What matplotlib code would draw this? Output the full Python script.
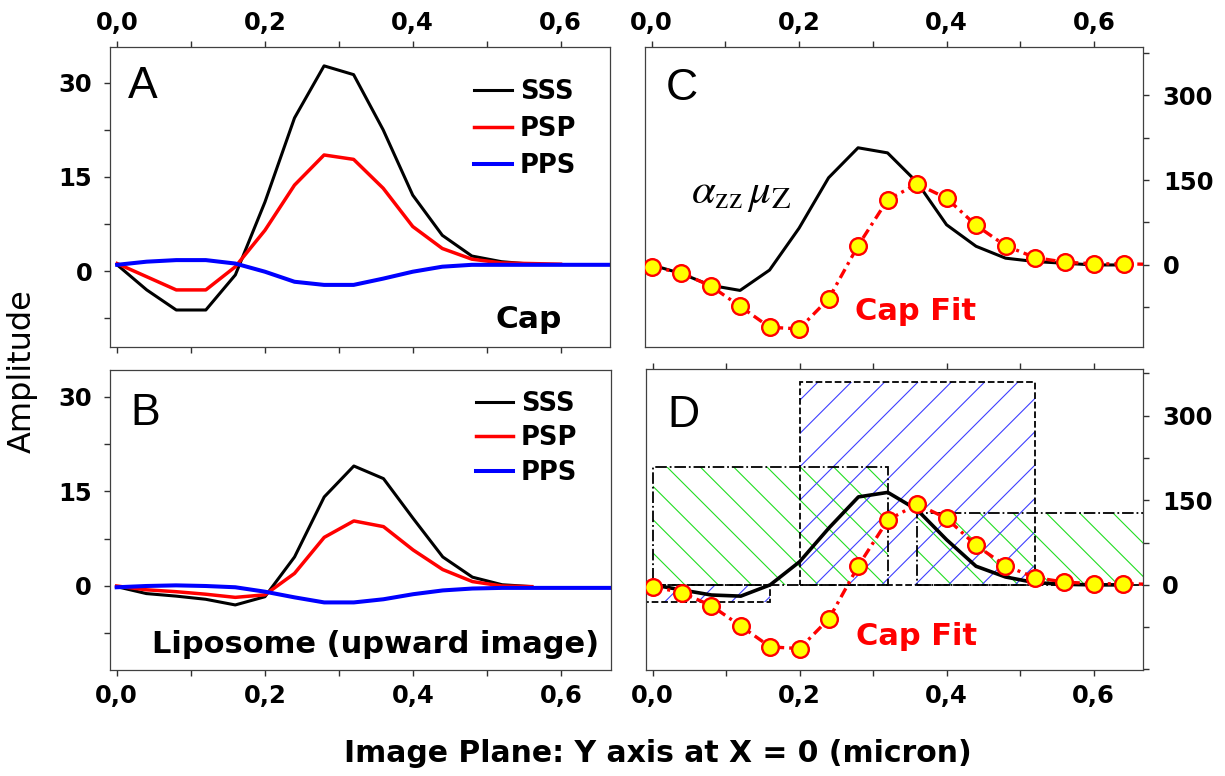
import matplotlib
matplotlib.use("Agg")
import matplotlib.pyplot as plt
from matplotlib.ticker import FixedLocator, MultipleLocator

# positions along the image plane (micron), sampled every 0.04
y_pos = [0.00, 0.04, 0.08, 0.12, 0.16, 0.20, 0.24, 0.28, 0.32, 0.36,
         0.40, 0.44, 0.48, 0.52, 0.56, 0.60, 0.64, 0.68]

# panel A: cap
sss_cap = [1.0, -3.0, -6.2, -6.2, -0.6, 11.0, 24.4, 32.7, 31.3, 22.5, 12.1, 5.7, 2.4, 1.5, 1.1]
psp_cap = [1.2, -0.9, -3.0, -3.0, 0.7, 6.5, 13.7, 18.5, 17.8, 13.2, 7.1, 3.6, 1.9, 1.3, 1.2, 1.1]
pps_cap = [1.0, 1.5, 1.75, 1.75, 1.2, -0.1, -1.7, -2.2, -2.2, -1.2, -0.1, 0.7, 1.0, 1.0, 1.0, 1.0, 1.0, 1.0]

# panel B: liposome
sss_lip = [-0.1, -1.2, -1.6, -2.1, -3.0, -1.7, 4.6, 14.1, 19.0, 17.0, 10.7, 4.6, 1.4, 0.2, -0.1]
psp_lip = [0.0, -0.6, -0.9, -1.3, -1.8, -1.4, 2.0, 7.7, 10.3, 9.4, 5.7, 2.6, 0.7, 0.0, -0.1]
pps_lip = [-0.2, 0.0, 0.1, 0.0, -0.2, -0.9, -1.8, -2.6, -2.6, -2.1, -1.3, -0.7, -0.4, -0.3, -0.3, -0.3, -0.3, -0.3]

# panels C and D: alpha_zz * mu_z and the cap fit
azz_mu_c = [0, -15, -36, -45, -9, 65, 154, 207, 198, 146, 71, 33, 12, 6, 3, 0, 0]
azz_mu_d = [0, -9, -18, -20, 0, 41, 101, 156, 164, 133, 80, 33, 14, 4, 1, 0, 0]
cap_fit = [-3, -14, -37, -73, -110, -113, -60, 34, 115, 143, 118, 70, 34, 13, 5, 2, 2, 1]

# panel D: step blocks
blue_x = [0.00, 0.36]
blue_h = [-30, 360]
green_x = [0.16, 0.52]
green_h = [209, 127]
block_w = 0.32

x_ticks = [0.0, 0.2, 0.4, 0.6]
x_ticklabels = ["0,0", "0,2", "0,4", "0,6"]
amp_ticks = [0, 15, 30]
fit_ticks = [0, 150, 300]

plt.rcParams["hatch.linewidth"] = 0.8

fig = plt.figure(figsize=(12.25, 7.76), dpi=100)
ax_a = fig.add_axes([0.0902, 0.5528, 0.4078, 0.3866])
ax_b = fig.add_axes([0.0898, 0.1366, 0.4090, 0.3866])
ax_c = fig.add_axes([0.5265, 0.5528, 0.4069, 0.3866])
ax_d = fig.add_axes([0.5273, 0.1366, 0.4057, 0.3880])

tick_font = dict(fontsize=17.5, fontweight="bold")


def style(ax, yticks, yminor, top, right):
    ax.set_xlim(-0.009, 0.667)
    ax.xaxis.set_major_locator(FixedLocator(x_ticks))
    ax.set_xticklabels(x_ticklabels, **tick_font)
    ax.xaxis.set_minor_locator(MultipleLocator(0.1))
    ax.yaxis.set_major_locator(FixedLocator(yticks))
    ax.set_yticklabels([str(t) for t in yticks], **tick_font)
    ax.yaxis.set_minor_locator(MultipleLocator(yminor))
    for sp in ax.spines.values():
        sp.set_color("#404040")
        sp.set_linewidth(0.9)
    ax.tick_params(which="both", direction="out", length=4, width=1, color="#303030")
    if top:
        ax.tick_params(axis="x", which="both", top=True, labeltop=True,
                       bottom=(ax is ax_a), labelbottom=False, pad=5)
    else:
        ax.tick_params(axis="x", which="both", bottom=True, labelbottom=True,
                       top=(ax is ax_d), labeltop=False, pad=6)
    if right:
        ax.tick_params(axis="y", which="both", left=False, labelleft=False,
                       right=True, labelright=True, pad=10)
    else:
        ax.tick_params(axis="y", which="both", left=True, labelleft=True,
                       right=False, pad=9)


# A
ax_a.plot(y_pos[:len(sss_cap)], sss_cap, color="black", lw=2.2, label="SSS")
ax_a.plot(y_pos[:len(psp_cap)], psp_cap, color="#ff0000", lw=2.5, label="PSP")
ax_a.plot(y_pos[:len(pps_cap)], pps_cap, color="#0000ff", lw=2.9, label="PPS")
ax_a.set_ylim(-12.1, 35.7)
style(ax_a, amp_ticks, 7.5, top=True, right=False)
ax_a.legend(loc="upper right", bbox_to_anchor=(0.932, 0.895), frameon=False,
            prop=dict(size=18.5, weight="bold"), handlelength=1.46,
            handletextpad=0.3, labelspacing=0.43, borderpad=0, borderaxespad=0)
ax_a.text(0.035, 0.83, "A", transform=ax_a.transAxes, fontsize=32,
          family="Liberation Sans")
ax_a.text(0.903, 0.063, "Cap", transform=ax_a.transAxes, fontsize=22.5,
          fontweight="bold", ha="right", va="baseline")

# B
ax_b.plot(y_pos[:len(sss_lip)], sss_lip, color="black", lw=2.2, label="SSS")
ax_b.plot(y_pos[:len(psp_lip)], psp_lip, color="#ff0000", lw=2.5, label="PSP")
ax_b.plot(y_pos[:len(pps_lip)], pps_lip, color="#0000ff", lw=2.9, label="PPS")
ax_b.set_ylim(-13.3, 34.2)
style(ax_b, amp_ticks, 7.5, top=False, right=False)
ax_b.legend(loc="upper right", bbox_to_anchor=(0.933, 0.93), frameon=False,
            prop=dict(size=18.5, weight="bold"), handlelength=1.46,
            handletextpad=0.3, labelspacing=0.33, borderpad=0, borderaxespad=0)
ax_b.text(0.041, 0.817, "B", transform=ax_b.transAxes, fontsize=32,
          family="Liberation Sans")
ax_b.text(0.976, 0.057, "Liposome (upward image)", transform=ax_b.transAxes,
          fontsize=22, fontweight="bold", ha="right", va="baseline")

# C
fit_style = dict(color="#ff0000", lw=2.4, dashes=(3, 1.5, 0.9, 1.5), marker="o",
                 markersize=12, markerfacecolor="#ffff00", markeredgecolor="#ff0000",
                 markeredgewidth=1.7, markevery=list(range(17)), zorder=4)
ax_c.plot(y_pos[:len(azz_mu_c)], azz_mu_c, color="black", lw=2.2, zorder=3)
ax_c.plot(y_pos[:len(cap_fit)], cap_fit, **fit_style)
ax_c.set_ylim(-145, 385)
style(ax_c, fit_ticks, 75, top=True, right=True)
ax_c.text(0.042, 0.823, "C", transform=ax_c.transAxes, fontsize=32,
          family="Liberation Sans")
ax_c.text(0.093, 0.48, r"$\alpha_{\mathrm{zz}}\,\mu_{\mathrm{Z}}$", transform=ax_c.transAxes,
          fontsize=31, math_fontfamily="stix")
ax_c.text(0.358, -98, "Cap Fit", color="#ff0000", fontsize=22, fontweight="bold",
          ha="center", va="baseline")

# D
ax_d.bar(green_x, green_h, width=block_w, color="none", edgecolor="#22dd22",
         hatch="\\", lw=0, zorder=1)
ax_d.bar(green_x, green_h, width=block_w, fill=False, edgecolor="black",
         linestyle="-.", lw=1.3, zorder=2)
ax_d.bar(blue_x, blue_h, width=block_w, color="none", edgecolor="#3f3fff",
         hatch="/", lw=0, zorder=1)
ax_d.bar(blue_x, blue_h, width=block_w, fill=False, edgecolor="black",
         linestyle="--", lw=1.3, zorder=2)
ax_d.plot(y_pos[:len(azz_mu_d)], azz_mu_d, color="black", lw=2.6, zorder=3)
ax_d.plot(y_pos[:len(cap_fit)], cap_fit, **fit_style)
ax_d.set_ylim(-151, 383)
style(ax_d, fit_ticks, 75, top=False, right=True)
ax_d.text(0.044, 0.807, "D", transform=ax_d.transAxes, fontsize=32,
          family="Liberation Sans")
ax_d.text(0.359, -106, "Cap Fit", color="#ff0000", fontsize=22, fontweight="bold",
          ha="center", va="baseline")

fig.text(0.018, 0.522, "Amplitude", rotation=90, fontsize=23, ha="center", va="center")
fig.text(0.537, 0.0185, "Image Plane: Y axis at X = 0 (micron)", fontsize=21.5,
         fontweight="bold", ha="center", va="baseline")

fig.savefig("out.png", dpi=100)
